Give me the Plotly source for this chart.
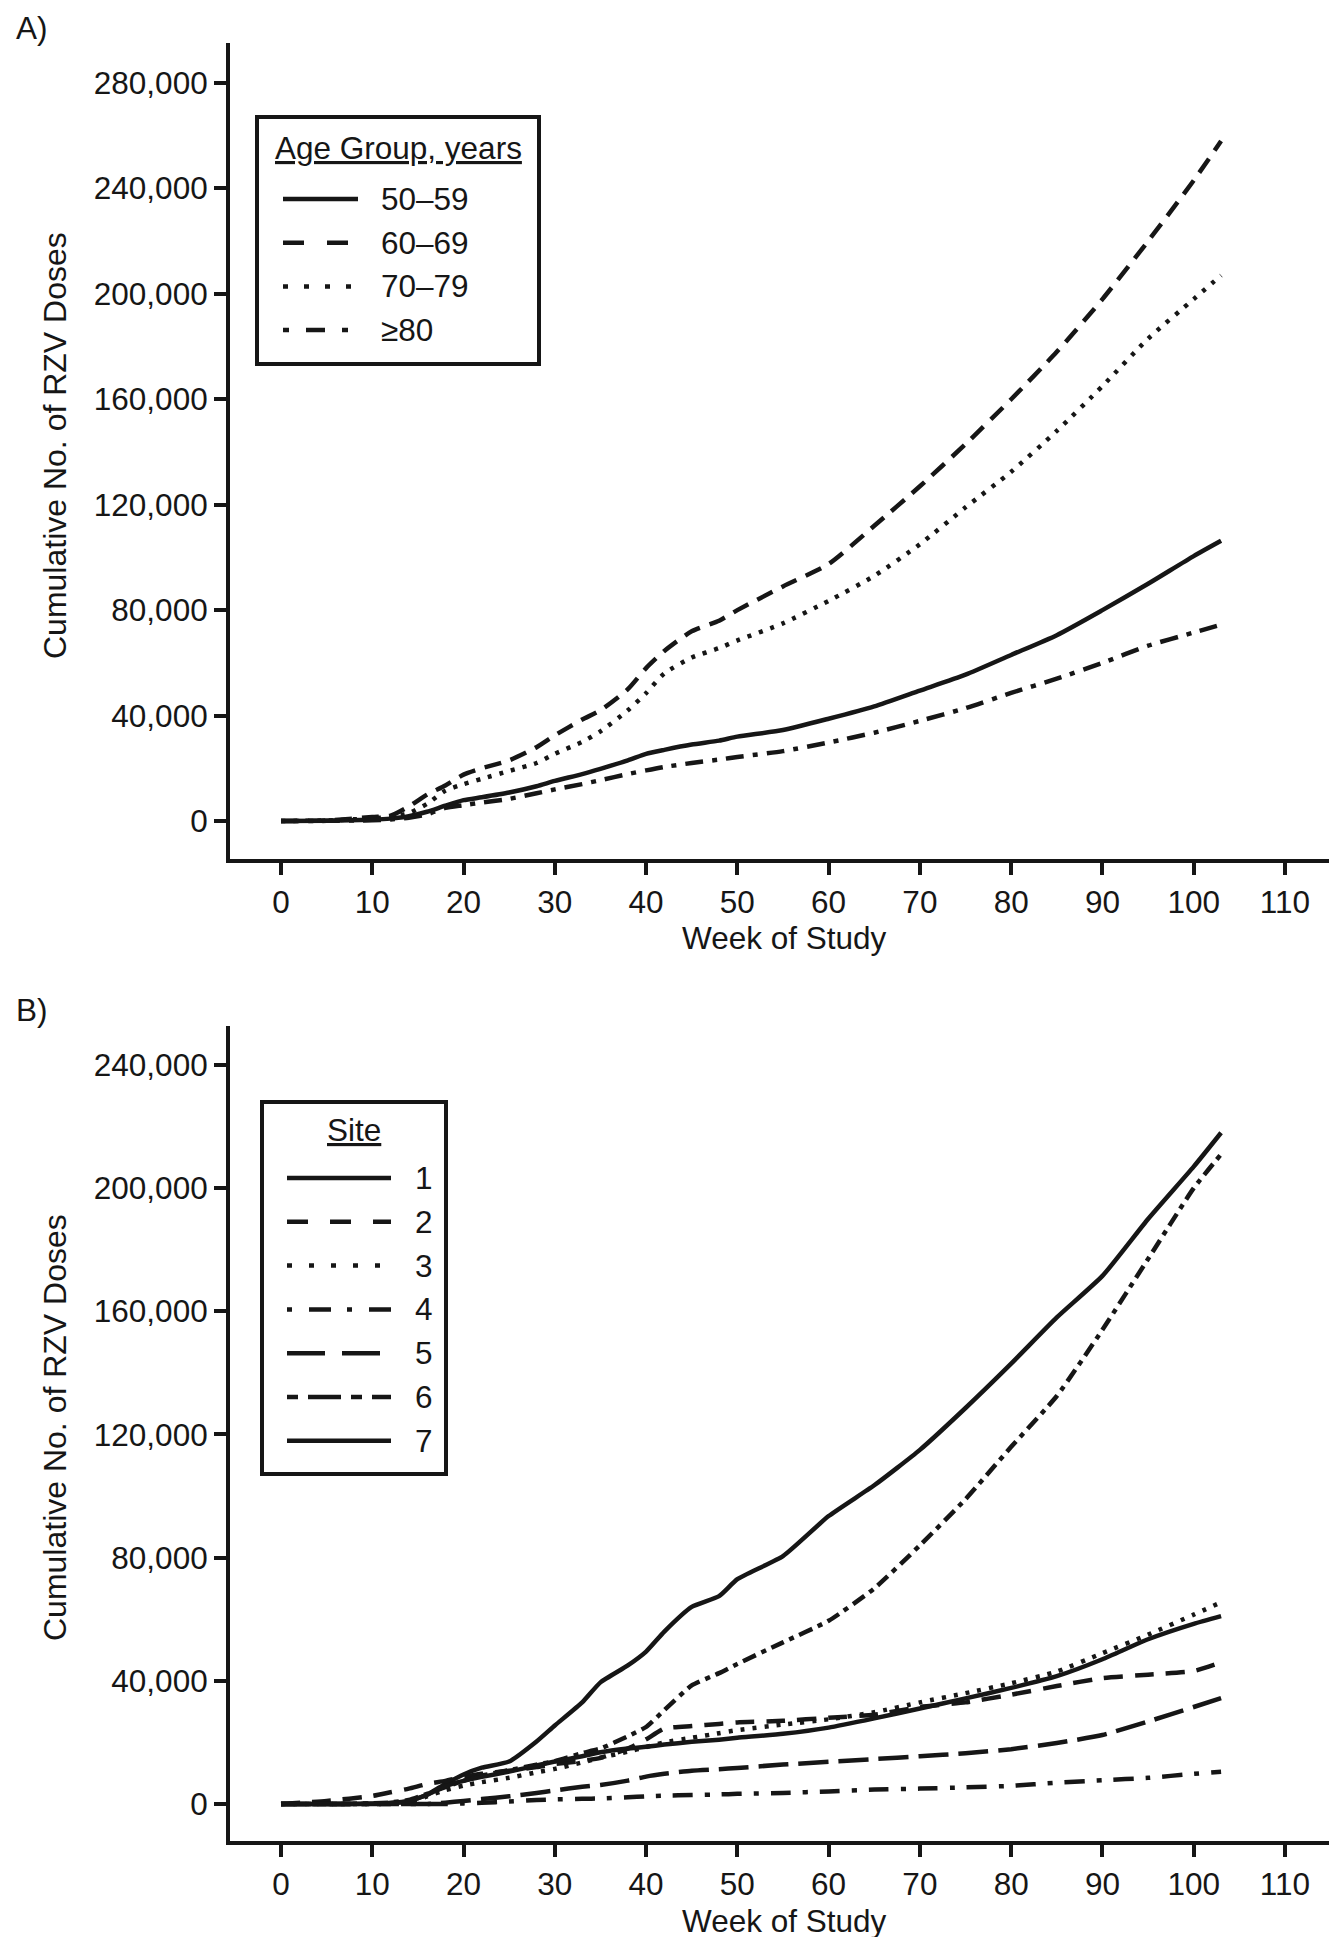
import plotly.graph_objects as go

# ---------------- data ----------------
weeks = [0, 5, 10, 12, 14, 16, 18, 20, 22, 25, 28, 30, 33, 35, 38, 40, 42, 45, 48, 50,
         55, 60, 65, 70, 75, 80, 85, 90, 95, 100, 103]

age_labels = ["50–59", "60–69", "70–79", "≥80"]
age_50_59 = [0, 100, 500, 900, 1800, 3500, 5800, 7900, 9000, 10800, 13200, 15200, 17800, 19800,
             23000, 25500, 27000, 29000, 30500, 32000, 34500, 38800, 43500, 49500, 55500, 63000,
             70500, 80000, 90000, 100500, 106300]
age_60_69 = [0, 200, 1500, 2000, 5500, 10000, 13500, 17600, 20000, 23000, 28000, 32500, 38500,
             42000, 50000, 58000, 64500, 72000, 76000, 80000, 89000, 97500, 112000, 127000, 143000,
             160000, 178000, 198000, 220000, 243000, 258000]
age_70_79 = [0, 200, 1000, 1500, 3000, 6500, 11500, 14000, 16000, 19000, 22000, 25500, 30000,
             34000, 42000, 48500, 56000, 62000, 65600, 68500, 75000, 83500, 93000, 105000, 119000,
             132500, 148000, 165000, 183000, 198000, 207000]
age_80_plus = [0, 50, 300, 600, 1200, 2500, 5000, 6000, 7000, 8400, 10500, 12000, 14000, 15500,
               17800, 19200, 20500, 22000, 23300, 24300, 26500, 29800, 33500, 38000, 42800, 48600,
               54000, 60000, 66500, 71500, 74500]

site_labels = ["1", "2", "3", "4", "5", "6", "7"]
site_1 = [0, 0, 100, 300, 1000, 3000, 6500, 9600, 11800, 13800, 20300, 25500, 33000, 39500, 45000,
          49500, 56000, 64000, 67500, 73000, 80500, 93500, 103500, 115000, 128600, 143000, 158000,
          171500, 190000, 207000, 218000]
site_2 = [0, 1000, 2600, 3800, 5000, 6500, 7500, 8800, 9800, 10800, 12000, 13000, 14000, 15000,
          18000, 21000, 24500, 25300, 26000, 26500, 27000, 28000, 29000, 31500, 33000, 35500, 38300,
          40900, 42000, 43200, 46000]
site_3 = [0, 0, 0, 100, 500, 2500, 4500, 6000, 7100, 8500, 10300, 11400, 13500, 15000, 17000, 18500,
          20000, 21500, 23000, 24000, 25800, 27500, 29800, 33000, 36000, 39200, 43000, 49000, 55000,
          61500, 65500]
site_4 = [0, 0, 0, 0, 0, 0, 0, 200, 400, 800, 1300, 1500, 1700, 1800, 2200, 2500, 2700, 2900, 3100,
          3300, 3600, 4100, 4700, 5000, 5400, 5900, 6900, 7700, 8500, 9800, 10500]
site_5 = [0, 0, 0, 0, 0, 0, 400, 1000, 1600, 2500, 3600, 4400, 5600, 6200, 7600, 8900, 9800, 10800,
          11300, 11700, 12800, 13700, 14600, 15500, 16500, 17800, 19800, 22400, 26800, 31500, 34400]
site_6 = [0, 0, 200, 500, 1300, 3300, 5500, 7500, 9200, 11000, 12800, 13900, 16500, 18000, 22000,
          25000, 30500, 38500, 42500, 45500, 52500, 59500, 70000, 84000, 99000, 116000, 132500,
          154000, 177000, 200000, 211000]
site_7 = [0, 0, 100, 300, 900, 3000, 5800, 7500, 8800, 10500, 12500, 13800, 15500, 16800, 18000,
          18600, 19300, 20200, 20900, 21500, 22800, 24800, 27800, 31000, 34300, 37700, 41500, 47000,
          53500, 58500, 61000]

x_ticks = [0, 10, 20, 30, 40, 50, 60, 70, 80, 90, 100, 110]
y_ticks_a = [0, 40000, 80000, 120000, 160000, 200000, 240000, 280000]
y_ticks_b = [0, 40000, 80000, 120000, 160000, 200000, 240000]

# ---------------- styling ----------------
W, H = 1337, 1937
INK = "#161616"
FONT = "Liberation Sans, Arial, Helvetica, sans-serif"
FS = 31.5
FS_YT = 32
LW = 4.5
AXW = 4

age_series = [age_50_59, age_60_69, age_70_79, age_80_plus]
age_dash_plot = ["solid", "17px,10px", "4px,8px", "18px,9px,5px,9px"]
age_dash_leg = ["solid", "21px,23px", "5px,16px", "6px,17px,19px,17px"]

site_series = [site_1, site_2, site_3, site_4, site_5, site_6, site_7]
site_dash_plot = ["solid", "19px,12px", "4px,8px", "20px,12px,5px,12px", "30px,10px",
                  "14px,6px,5px,6px", "solid"]
site_dash_leg = ["solid", "21px,22px", "5px,17px", "5px,17px,22px,16px", "38px,17px",
                 "11px,10px,33px,10px", "solid"]


def px(xp):
    return xp / W


def py(yp):
    return 1 - yp / H


fig = go.Figure()

for name, vals, dash in zip(age_labels, age_series, age_dash_plot):
    fig.add_trace(go.Scatter(x=weeks, y=vals, mode="lines", name=name, xaxis="x", yaxis="y",
                             line=dict(color=INK, width=LW, dash=dash, shape="spline",
                                       smoothing=0.6),
                             showlegend=False, hoverinfo="skip"))

for name, vals, dash in zip(site_labels, site_series, site_dash_plot):
    fig.add_trace(go.Scatter(x=weeks, y=vals, mode="lines", name="Site " + name, xaxis="x2",
                             yaxis="y2",
                             line=dict(color=INK, width=LW, dash=dash, shape="spline",
                                       smoothing=0.5),
                             showlegend=False, hoverinfo="skip"))

# axis geometry (pixels): x-axis from 222 to 1330, week 0 at 273, 9.127 px per week
x_dom = [px(222), px(1330)]
x_rng = [(222 - 273) / 9.127, (1330 - 273) / 9.127]

axis_common = dict(showline=True, linewidth=AXW, linecolor=INK, ticks="outside", ticklen=12,
                   tickwidth=AXW, tickcolor=INK, showgrid=False, zeroline=False,
                   tickfont=dict(family=FONT, size=FS, color=INK), fixedrange=True)

# panel A: y from pixel 35 (top) to 851 (bottom); 0 at 813, 105.43 px per 40,000
sa = 40000 / 105.43
ya_rng = [-(851 - 813) * sa, (813 - 35) * sa]
# panel B: y from pixel 1018 to 1833; 0 at 1796, 123.17 px per 40,000
sb = 40000 / 123.17
yb_rng = [-(1833 - 1796) * sb, (1796 - 1018) * sb]

fig.update_layout(
    width=W, height=H,
    margin=dict(l=0, r=0, t=0, b=0),
    paper_bgcolor="white", plot_bgcolor="white",
    font=dict(family=FONT, size=FS, color=INK),
    hovermode=False,
    xaxis=dict(domain=x_dom, range=x_rng, tickvals=x_ticks, anchor="y", **axis_common),
    yaxis=dict(domain=[py(851), py(35)], range=ya_rng, tickvals=y_ticks_a, tickformat=",d",
               anchor="x", **axis_common),
    xaxis2=dict(domain=x_dom, range=x_rng, tickvals=x_ticks, anchor="y2", **axis_common),
    yaxis2=dict(domain=[py(1833), py(1018)], range=yb_rng, tickvals=y_ticks_b, tickformat=",d",
                anchor="x2", **axis_common),
)

annotations = []
shapes = []


def text(x, y, s, anchor="center", angle=0, size=FS):
    annotations.append(dict(x=px(x), y=py(y), xref="paper", yref="paper", text=s,
                            showarrow=False, xanchor=anchor, yanchor="middle", textangle=angle,
                            font=dict(family=FONT, size=size, color=INK)))


# panel labels
text(6, 20, "A)", anchor="left")
text(6, 1002, "B)", anchor="left")

# axis titles
text(776, 930, "Week of Study")
text(776, 1913, "Week of Study")
text(47, 438, "Cumulative No. of RZV Doses", angle=-90, size=FS_YT)
text(47, 1420, "Cumulative No. of RZV Doses", angle=-90, size=FS_YT)

# legend A
shapes.append(dict(type="rect", xref="paper", yref="paper", x0=px(249), x1=px(531),
                   y0=py(356), y1=py(109), line=dict(color=INK, width=AXW)))
text(390, 140, "<u>Age Group, years</u>")
for i, (lab, dash) in enumerate(zip(age_labels, age_dash_leg)):
    yy = 191 + i * 43.7
    shapes.append(dict(type="line", xref="paper", yref="paper", x0=px(275), x1=px(350),
                       y0=py(yy), y1=py(yy), line=dict(color=INK, width=LW, dash=dash)))
    text(371, yy, lab, anchor="left")

# legend B
shapes.append(dict(type="rect", xref="paper", yref="paper", x0=px(254), x1=px(438),
                   y0=py(1466), y1=py(1094), line=dict(color=INK, width=AXW)))
text(346, 1122, "<u>Site</u>")
for i, (lab, dash) in enumerate(zip(site_labels, site_dash_leg)):
    yy = 1170 + i * 43.8
    shapes.append(dict(type="line", xref="paper", yref="paper", x0=px(279), x1=px(383),
                       y0=py(yy), y1=py(yy), line=dict(color=INK, width=LW, dash=dash)))
    text(405, yy, lab, anchor="left")

fig.update_layout(annotations=annotations, shapes=shapes)

fig.write_html("out.html")
